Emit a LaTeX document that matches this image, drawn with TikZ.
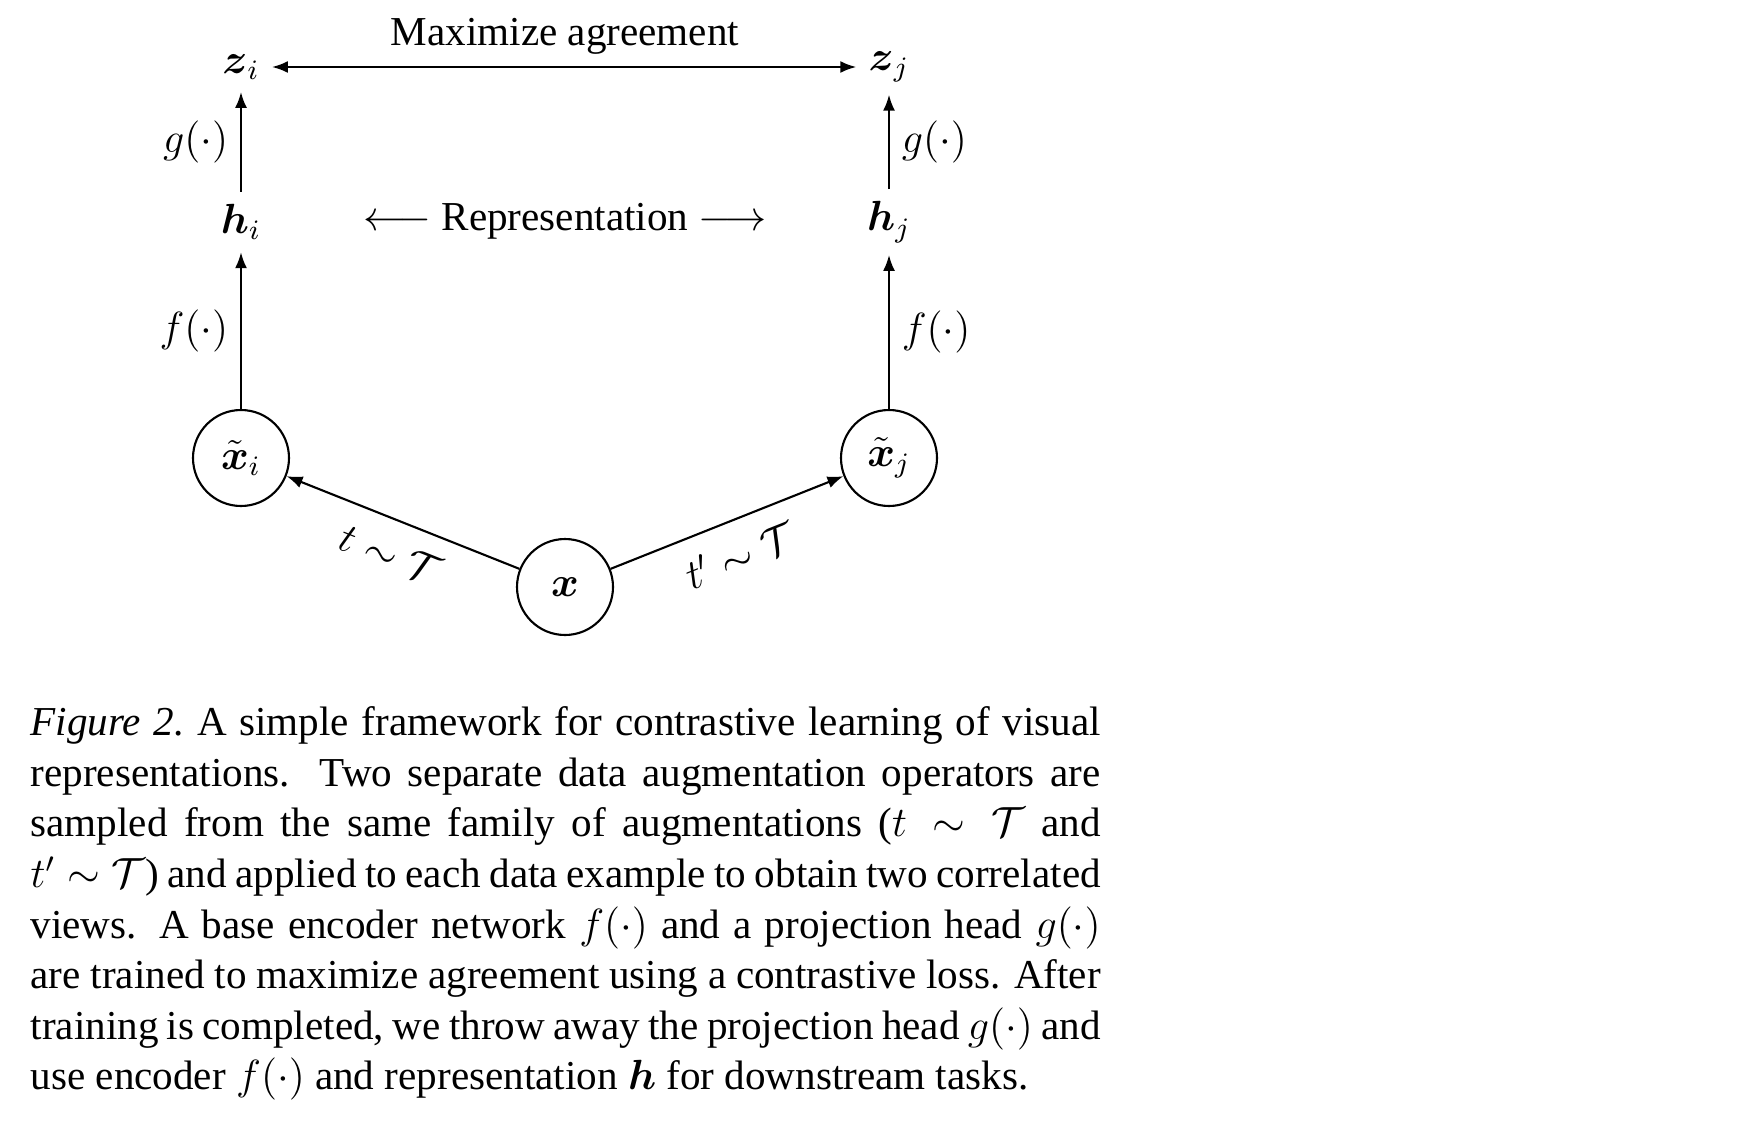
\documentclass[tikz,border=0pt]{standalone}
\usepackage{amsmath,amssymb}
\usepackage{fontspec}
\setmainfont{Liberation Serif}
\usepackage{tikz}
\usetikzlibrary{arrows.meta}

\begin{document}
\begin{tikzpicture}[x=0.1mm, y=0.1mm, >={Latex[length=1.6mm,width=1.2mm]},
    every node/.style={font=\fontsize{11.7}{14.4}\selectfont},
    view/.style={draw, circle, minimum size=9.6mm, inner sep=0pt, line width=0.6pt},
    link/.style={->, line width=0.6pt}]

\useasboundingbox (0,0) rectangle (1760,-1125);

% --- FRAMEWORK (Top Section) ---
\begin{scope}
    % Data example and its two views
    \node[view] (x)  at (565,-587) {$\boldsymbol{x}$};
    \node[view] (xi) at (241,-458) {$\tilde{\boldsymbol{x}}_i$};
    \node[view] (xj) at (889,-458) {$\tilde{\boldsymbol{x}}_j$};

    % Representations and projections
    \node (hi) at (241,-222) {$\boldsymbol{h}_i$};
    \node (hj) at (889,-222) {$\boldsymbol{h}_j$};
    \node (zi) at (241,-67) {$\boldsymbol{z}_i$};
    \node (zj) at (889,-67) {$\boldsymbol{z}_j$};

    \node (agree) at (565,-36) {Maximize agreement};
    \node (repr) at (565,-221) {$\longleftarrow$ Representation $\longrightarrow$};

    % Augmentations
    \draw[link] (x) -- (xi) node[midway, below=2pt, sloped] {$t \sim \mathcal{T}$};
    \draw[link] (x) -- (xj) node[midway, below=2pt, sloped] {$t' \sim \mathcal{T}$};

    % Encoder and projection head
    \draw[link] (xi) -- (hi) node[midway, left] {$f(\cdot)$};
    \draw[link] (xj) -- (hj) node[midway, right] {$f(\cdot)$};
    \draw[link] (hi) -- (zi) node[midway, left] {$g(\cdot)$};
    \draw[link] (hj) -- (zj) node[midway, right] {$g(\cdot)$};

    % Agreement
    \draw[<->, line width=0.6pt] (zi) -- (zj);
\end{scope}

% --- CAPTION (Bottom Section) ---
\node[anchor=north west, inner sep=0pt, text width=10.7cm, align=justify] (caption) at (30,-706) {%
    \textit{Figure 2.}\ A simple framework for contrastive learning of visual\linebreak
    representations. Two separate data augmentation operators are\linebreak
    sampled from the same family of augmentations ($t \sim \mathcal{T}$ and\linebreak
    $t' \sim \mathcal{T}$) and applied to each data example to obtain two correlated\linebreak
    views. A base encoder network $f(\cdot)$ and a projection head $g(\cdot)$\linebreak
    are trained to maximize agreement using a contrastive loss. After\linebreak
    training is completed, we throw away the projection head $g(\cdot)$ and\linebreak
    use encoder $f(\cdot)$ and representation $\boldsymbol{h}$ for downstream tasks.};

\end{tikzpicture}
\end{document}
